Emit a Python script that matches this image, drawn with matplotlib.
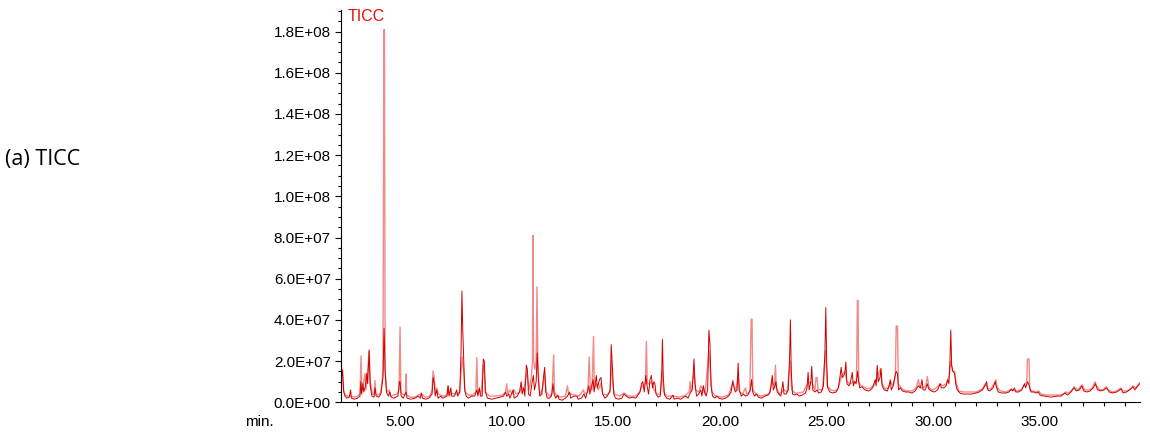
import matplotlib
matplotlib.use("Agg")
import matplotlib.pyplot as plt
from matplotlib.ticker import MultipleLocator, FuncFormatter
import numpy as np

# retention time (min) and intensity (x 1E7)
dark_time = [
    2.23, 2.27, 2.30, 2.36, 2.42, 2.50, 2.62, 2.68, 2.72, 2.85, 3.00, 3.12, 3.16, 3.20, 3.26, 3.30,
    3.38, 3.44, 3.48, 3.55, 3.60, 3.68, 3.78, 3.83, 3.88, 4.00, 4.10, 4.20, 4.25, 4.30, 4.36, 4.45,
    4.52, 4.58, 4.70, 4.80, 4.90, 4.97, 5.00, 5.05, 5.15, 5.28, 5.33, 5.50, 5.70, 5.85, 5.95, 6.00,
    6.05, 6.20, 6.35, 6.50, 6.55, 6.60, 6.65, 6.72, 6.78, 6.90, 7.00, 7.10, 7.20, 7.25, 7.30, 7.38,
    7.42, 7.55, 7.65, 7.70, 7.80, 7.86, 7.90, 7.94, 7.98, 8.03, 8.10, 8.20, 8.35, 8.50, 8.60, 8.65,
    8.72, 8.77, 8.85, 8.90, 8.95, 9.00, 9.10, 9.30, 9.50, 9.70, 9.85, 9.95, 10.00, 10.10, 10.15, 10.30,
    10.35, 10.50, 10.60, 10.68, 10.72, 10.80, 10.85, 10.92, 10.97, 11.02, 11.10, 11.18, 11.25, 11.30,
    11.38, 11.43, 11.48, 11.55, 11.65, 11.72, 11.78, 11.83, 11.90, 12.00, 12.10, 12.17, 12.22, 12.30,
    12.40, 12.45, 12.60, 12.75, 12.85, 12.95, 13.00, 13.15, 13.30, 13.35, 13.50, 13.62, 13.70, 13.85,
    13.90, 14.05, 14.10, 14.20, 14.25, 14.35, 14.42, 14.50, 14.60, 14.72, 14.85, 14.90, 14.96, 15.02,
    15.10, 15.25, 15.40, 15.50, 15.60, 15.75, 15.90, 16.05, 16.15, 16.25, 16.32, 16.38, 16.45, 16.52,
    16.58, 16.65, 16.72, 16.78, 16.84, 16.90, 16.95, 17.00, 17.10, 17.20, 17.27, 17.30, 17.34, 17.40,
    17.50, 17.65, 17.80, 17.85, 18.00, 18.15, 18.30, 18.40, 18.50, 18.62, 18.70, 18.78, 18.83, 18.90,
    19.00, 19.10, 19.15, 19.22, 19.28, 19.35, 19.42, 19.48, 19.53, 19.58, 19.65, 19.75, 19.85, 19.95,
    20.10, 20.25, 20.40, 20.52, 20.60, 20.66, 20.72, 20.80, 20.85, 20.90, 21.00, 21.10, 21.20, 21.30,
    21.42, 21.48, 21.53, 21.62, 21.70, 21.80, 21.95, 22.10, 22.25, 22.35, 22.45, 22.50, 22.58, 22.62,
    22.68, 22.75, 22.85, 22.95, 23.00, 23.10, 23.20, 23.27, 23.30, 23.34, 23.40, 23.50, 23.60, 23.72,
    23.85, 24.00, 24.08, 24.13, 24.18, 24.26, 24.30, 24.35, 24.45, 24.55, 24.62, 24.75, 24.85, 24.92,
    24.96, 25.00, 25.05, 25.15, 25.30, 25.45, 25.55, 25.62, 25.68, 25.73, 25.80, 25.85, 25.90, 25.95,
    26.05, 26.12, 26.20, 26.25, 26.32, 26.38, 26.45, 26.50, 26.55, 26.65, 26.80, 26.95, 27.05, 27.15,
    27.28, 27.32, 27.37, 27.42, 27.50, 27.55, 27.60, 27.70, 27.85, 27.95, 27.98, 28.03, 28.12, 28.20,
    28.26, 28.32, 28.37, 28.45, 28.55, 28.70, 28.85, 29.00, 29.15, 29.30, 29.40, 29.47, 29.52, 29.62,
    29.72, 29.78, 29.90, 30.05, 30.20, 30.32, 30.38, 30.50, 30.60, 30.68, 30.73, 30.78, 30.82, 30.86,
    30.92, 31.00, 31.05, 31.12, 31.25, 31.40, 31.60, 31.80, 32.00, 32.15, 32.30, 32.42, 32.50, 32.55,
    32.65, 32.80, 32.90, 32.97, 33.05, 33.20, 33.40, 33.55, 33.65, 33.72, 33.80, 33.87, 34.00, 34.15,
    34.27, 34.33, 34.42, 34.50, 34.58, 34.70, 34.85, 34.92, 35.00, 35.20, 35.50, 35.80, 36.00, 36.17,
    36.30, 36.45, 36.60, 36.70, 36.85, 36.96, 37.05, 37.20, 37.35, 37.50, 37.60, 37.70, 37.85, 38.00,
    38.12, 38.25, 38.40, 38.60, 38.80, 38.90, 39.05, 39.20, 39.36, 39.45, 39.55, 39.68,
]
dark_int = [
    1.5, 1.3, 1.55, 0.5, 0.3, 0.2, 0.25, 0.6, 0.2, 0.15, 0.2, 0.3, 1.0, 0.4, 0.9, 0.5,
    0.8, 1.4, 0.9, 2.5, 0.8, 0.3, 0.25, 0.7, 0.3, 0.25, 0.4, 1.2, 3.6, 1.5, 0.5, 0.3,
    0.5, 0.25, 0.2, 0.25, 0.3, 1.0, 1.0, 0.3, 0.2, 0.5, 0.2, 0.15, 0.2, 0.3, 0.2, 0.45,
    0.2, 0.15, 0.2, 0.4, 1.2, 0.9, 0.3, 0.6, 0.2, 0.3, 0.2, 0.25, 0.3, 0.8, 0.3, 0.7,
    0.3, 0.3, 0.6, 0.3, 0.5, 2.5, 5.4, 3.5, 2.2, 0.6, 0.3, 0.2, 0.3, 0.3, 0.6, 0.3,
    0.7, 0.3, 0.3, 2.1, 2.0, 0.5, 0.2, 0.15, 0.2, 0.25, 0.3, 0.5, 0.3, 0.4, 0.2, 0.6,
    0.2, 0.3, 0.5, 1.0, 0.4, 0.7, 0.3, 1.8, 1.6, 0.4, 0.3, 0.9, 1.3, 0.6,
    1.0, 2.4, 1.2, 0.3, 0.4, 1.2, 1.7, 0.5, 0.2, 0.2, 0.3, 0.9, 0.4, 0.2,
    0.35, 0.15, 0.1, 0.2, 0.3, 0.5, 0.2, 0.3, 0.3, 0.15, 0.2, 0.4, 0.2, 0.8,
    0.4, 1.1, 0.5, 1.3, 0.7, 1.1, 1.2, 0.4, 0.2, 0.3, 0.6, 2.8, 1.6, 0.4,
    0.2, 0.15, 0.2, 0.4, 0.3, 0.2, 0.25, 0.2, 0.35, 0.5, 0.9, 1.0, 0.5, 1.3,
    0.8, 0.4, 1.1, 1.3, 0.7, 1.0, 0.9, 0.4, 0.25, 0.3, 1.5, 3.05, 1.2, 0.35,
    0.2, 0.15, 0.35, 0.15, 0.2, 0.15, 0.25, 0.3, 0.2, 0.5, 0.6, 2.1, 0.9, 0.3,
    0.4, 0.6, 0.3, 0.8, 0.5, 0.3, 0.6, 3.5, 2.8, 0.8, 0.3, 0.2, 0.3, 0.2,
    0.15, 0.2, 0.3, 0.5, 1.05, 0.7, 0.5, 0.6, 1.9, 0.6, 0.3, 0.4, 0.3, 0.35,
    0.6, 1.1, 0.5, 0.3, 0.4, 0.25, 0.2, 0.3, 0.35, 0.5, 1.3, 0.6, 0.8, 1.0,
    0.5, 0.4, 0.3, 1.0, 0.4, 0.4, 0.6, 2.5, 4.0, 1.5, 0.4, 0.35, 0.4, 0.3,
    0.35, 0.45, 0.7, 1.45, 0.6, 1.0, 1.75, 0.6, 0.5, 0.6, 0.45, 0.5, 0.8, 2.5,
    4.6, 2.0, 0.7, 0.5, 0.45, 0.5, 0.7, 1.2, 1.7, 1.2, 1.3, 1.4, 1.95, 0.9,
    0.8, 1.0, 1.45, 0.8, 1.0, 0.9, 1.5, 1.0, 0.7, 0.75, 0.6, 0.55, 0.6, 0.7,
    1.1, 0.8, 1.8, 1.0, 1.2, 1.65, 0.8, 0.6, 0.55, 0.9, 1.1, 0.6, 0.8, 1.25,
    1.5, 1.4, 0.6, 0.7, 0.55, 0.5, 0.5, 0.45, 0.55, 0.8, 0.7, 1.1, 0.6, 0.6,
    0.9, 0.65, 0.55, 0.5, 0.6, 0.9, 0.7, 0.7, 0.8, 1.1, 0.9, 2.0, 3.5, 1.8,
    1.5, 1.4, 0.9, 0.6, 0.45, 0.4, 0.4, 0.4, 0.45, 0.5, 0.6, 0.8, 1.0, 0.6,
    0.55, 0.7, 1.0, 0.7, 0.5, 0.45, 0.45, 0.5, 0.65, 0.55, 0.7, 0.5, 0.5, 0.6,
    0.9, 0.7, 1.0, 0.8, 0.5, 0.5, 0.45, 0.5, 0.35, 0.3, 0.25, 0.3, 0.3, 0.45,
    0.35, 0.5, 0.7, 0.55, 0.6, 0.8, 0.55, 0.5, 0.55, 0.7, 0.9, 0.6, 0.55, 0.6,
    0.7, 0.5, 0.45, 0.5, 0.65, 0.45, 0.5, 0.6, 0.75, 0.6, 0.75, 0.9,
]

light_time = [
    2.23, 2.27, 2.30, 2.35, 2.42, 2.55, 2.70, 2.85, 3.00, 3.12, 3.17, 3.21, 3.30, 3.36, 3.40, 3.50,
    3.55, 3.60, 3.70, 3.78, 3.82, 3.86, 4.00, 4.10, 4.20, 4.24, 4.27, 4.30, 4.38, 4.50, 4.55, 4.70,
    4.85, 4.95, 5.00, 5.04, 5.15, 5.26, 5.28, 5.31, 5.50, 5.70, 5.85, 6.00, 6.20, 6.40, 6.50, 6.55,
    6.60, 6.66, 6.72, 6.80, 7.00, 7.20, 7.25, 7.30, 7.40, 7.60, 7.80, 7.86, 7.92, 7.98, 8.05, 8.20,
    8.40, 8.55, 8.60, 8.64, 8.72, 8.80, 8.90, 8.95, 9.00, 9.20, 9.50, 9.80, 9.95, 10.00, 10.05, 10.15,
    10.25, 10.35, 10.45, 10.60, 10.72, 10.80, 10.90, 10.95, 11.05, 11.15, 11.21, 11.23, 11.26, 11.32,
    11.38, 11.42, 11.46, 11.52, 11.60, 11.70, 11.78, 11.85, 12.00, 12.12, 12.20, 12.24, 12.35, 12.55,
    12.75, 12.85, 12.90, 13.00, 13.20, 13.40, 13.60, 13.65, 13.80, 13.87, 13.92, 14.00, 14.07, 14.11,
    14.20, 14.30, 14.40, 14.50, 14.70, 14.85, 14.90, 14.98, 15.05, 15.30, 15.50, 15.70, 16.00, 16.20,
    16.35, 16.50, 16.55, 16.59, 16.70, 16.80, 16.90, 17.05, 17.20, 17.30, 17.35, 17.50, 17.80, 18.10,
    18.40, 18.55, 18.60, 18.65, 18.78, 18.85, 19.00, 19.10, 19.20, 19.30, 19.48, 19.55, 19.62, 19.80,
    20.10, 20.40, 20.58, 20.65, 20.75, 20.85, 20.92, 21.05, 21.20, 21.25, 21.40, 21.46, 21.50, 21.54,
    21.70, 21.90, 22.10, 22.30, 22.45, 22.55, 22.60, 22.64, 22.80, 23.00, 23.15, 23.30, 23.36, 23.50,
    23.70, 23.90, 24.10, 24.30, 24.45, 24.50, 24.55, 24.60, 24.80, 24.95, 25.02, 25.20, 25.40, 25.55,
    25.70, 25.85, 25.95, 26.10, 26.25, 26.40, 26.44, 26.47, 26.50, 26.60, 26.75, 26.90, 27.05, 27.20,
    27.30, 27.40, 27.52, 27.60, 27.75, 27.90, 28.00, 28.12, 28.22, 28.26, 28.32, 28.36, 28.45, 28.60,
    28.80, 29.00, 29.20, 29.30, 29.38, 29.50, 29.65, 29.72, 29.80, 29.95, 30.15, 30.32, 30.45, 30.60,
    30.75, 30.82, 30.90, 31.00, 31.08, 31.20, 31.40, 31.70, 32.00, 32.30, 32.45, 32.55, 32.70, 32.85,
    32.93, 33.00, 33.15, 33.40, 33.60, 33.75, 33.90, 34.10, 34.25, 34.38, 34.41, 34.49, 34.52, 34.65,
    34.80, 34.95, 35.05, 35.30, 35.60, 35.90, 36.10, 36.20, 36.35, 36.50, 36.60, 36.75, 36.90, 36.98,
    37.10, 37.30, 37.45, 37.58, 37.65, 37.80, 37.95, 38.10, 38.20, 38.40, 38.60, 38.80, 38.90, 39.10,
    39.25, 39.35, 39.50, 39.60, 39.68,
]
light_int = [
    2.1, 1.4, 1.6, 0.6, 0.35, 0.3, 0.3, 0.25, 0.3, 0.4, 2.25, 0.6, 1.0, 1.4, 0.6, 1.8,
    2.55, 1.0, 0.4, 0.4, 1.05, 0.4, 0.35, 0.5, 1.5, 18.1, 18.1, 1.5, 0.5, 0.6, 0.3, 0.35,
    0.4, 0.6, 3.65, 0.5, 0.35, 0.4, 1.37, 0.35, 0.25, 0.25, 0.35, 0.4, 0.25, 0.3, 0.6, 1.53,
    1.2, 0.4, 0.7, 0.4, 0.3, 0.35, 0.8, 0.35, 0.45, 0.4, 0.5, 1.5, 2.2, 1.5, 0.5, 0.35,
    0.35, 0.5, 2.17, 0.5, 0.6, 0.4, 1.8, 1.6, 0.5, 0.3, 0.3, 0.35, 0.5, 0.9, 0.4, 0.6,
    0.4, 0.6, 0.4, 0.5, 0.7, 0.6, 1.2, 1.5, 0.6, 1.2, 2.0, 8.1, 2.0, 1.6,
    2.0, 5.6, 2.0, 0.6, 0.4, 0.8, 1.4, 0.5, 0.3, 0.4, 2.3, 0.5, 0.3, 0.25,
    0.3, 0.8, 0.4, 0.4, 0.35, 0.3, 0.6, 0.4, 0.5, 2.2, 0.6, 0.6, 3.2, 0.7,
    0.9, 0.6, 0.9, 0.4, 0.35, 0.5, 2.0, 0.8, 0.4, 0.3, 0.45, 0.3, 0.3, 0.45,
    0.8, 0.9, 2.95, 0.9, 0.9, 1.0, 0.6, 0.4, 0.4, 1.5, 0.5, 0.3, 0.3, 0.25,
    0.35, 0.5, 1.0, 0.5, 1.5, 0.6, 0.5, 0.8, 0.6, 0.4, 2.5, 1.5, 0.5, 0.3,
    0.25, 0.35, 0.9, 0.8, 0.6, 1.3, 0.5, 0.4, 0.7, 0.4, 0.5, 4.03, 4.03, 0.6,
    0.4, 0.3, 0.35, 0.4, 1.0, 0.8, 1.8, 0.7, 0.4, 0.6, 0.5, 2.0, 0.6, 0.45,
    0.45, 0.5, 0.9, 1.0, 0.6, 1.2, 1.2, 0.6, 0.6, 2.5, 0.8, 0.6, 0.55, 0.7,
    1.3, 1.5, 1.0, 0.9, 1.0, 1.0, 4.95, 4.95, 1.0, 0.8, 0.75, 0.65, 0.7, 0.8,
    1.0, 1.3, 1.6, 0.9, 0.65, 0.7, 1.0, 0.8, 1.3, 3.7, 3.7, 0.9, 0.75, 0.6,
    0.55, 0.55, 0.7, 1.1, 0.7, 0.7, 0.8, 1.25, 0.7, 0.6, 0.7, 0.9, 0.8, 0.9,
    1.3, 2.0, 1.5, 1.5, 0.9, 0.55, 0.5, 0.5, 0.5, 0.65, 0.9, 0.65, 0.65, 0.9,
    1.1, 0.7, 0.55, 0.5, 0.6, 0.6, 0.55, 0.6, 0.8, 1.0, 2.1, 2.1, 0.6, 0.55,
    0.5, 0.55, 0.4, 0.35, 0.35, 0.35, 0.4, 0.5, 0.45, 0.6, 0.75, 0.6, 0.75, 0.85,
    0.6, 0.6, 0.7, 1.0, 0.8, 0.6, 0.6, 0.75, 0.6, 0.5, 0.55, 0.7, 0.55, 0.55,
    0.65, 0.8, 0.7, 0.85, 0.95,
]

SCALE = 1e7
x_range = (2.23, 39.69)
y_range = (0, 1.905e8)

plt.rcParams['font.family'] = ['Liberation Sans', 'DejaVu Sans']

fig = plt.figure(figsize=(11.5, 4.32), dpi=100)
ax = fig.add_axes([0.2965, 0.0688, 0.6948, 0.9082])

# light trace underneath, dark trace on top
ax.plot(light_time, np.array(light_int) * SCALE, color='#f28a8a', lw=1.0)
ax.plot(dark_time, np.array(dark_int) * SCALE, color='#d00000', lw=0.7)

ax.set_xlim(*x_range)
ax.set_ylim(*y_range)

ax.xaxis.set_major_locator(MultipleLocator(5))
ax.xaxis.set_minor_locator(MultipleLocator(1))
ax.xaxis.set_major_formatter(FuncFormatter(lambda v, p: f"{v:.2f}"))
ax.yaxis.set_major_locator(MultipleLocator(2e7))
ax.yaxis.set_minor_locator(MultipleLocator(5e6))
ax.yaxis.set_major_formatter(FuncFormatter(lambda v, p: f"{v:.1E}"))

for s in ['top', 'right']:
    ax.spines[s].set_visible(False)

ax.tick_params(axis='x', which='both', direction='out', length=3.2, width=0.8,
               labelsize=11, pad=6)
ax.tick_params(axis='y', which='major', direction='out', length=4.3, width=0.8,
               labelsize=11, pad=3)
ax.tick_params(axis='y', which='minor', direction='out', length=2.2, width=0.8)

ax.text(0.008, 0.982, 'TICC', transform=ax.transAxes, color='#e01010',
        fontsize=11.5, ha='left', va='center')

fig.text(245 / 1150, 1 - 422 / 432, 'min.', fontsize=11, ha='left', va='center')
fig.text(5 / 1150, 1 - 160 / 432, '(a) TICC', fontsize=15.5, ha='left', va='center',
         family=['Open Sans', 'DejaVu Sans'])

fig.savefig('out.png', dpi=100)
